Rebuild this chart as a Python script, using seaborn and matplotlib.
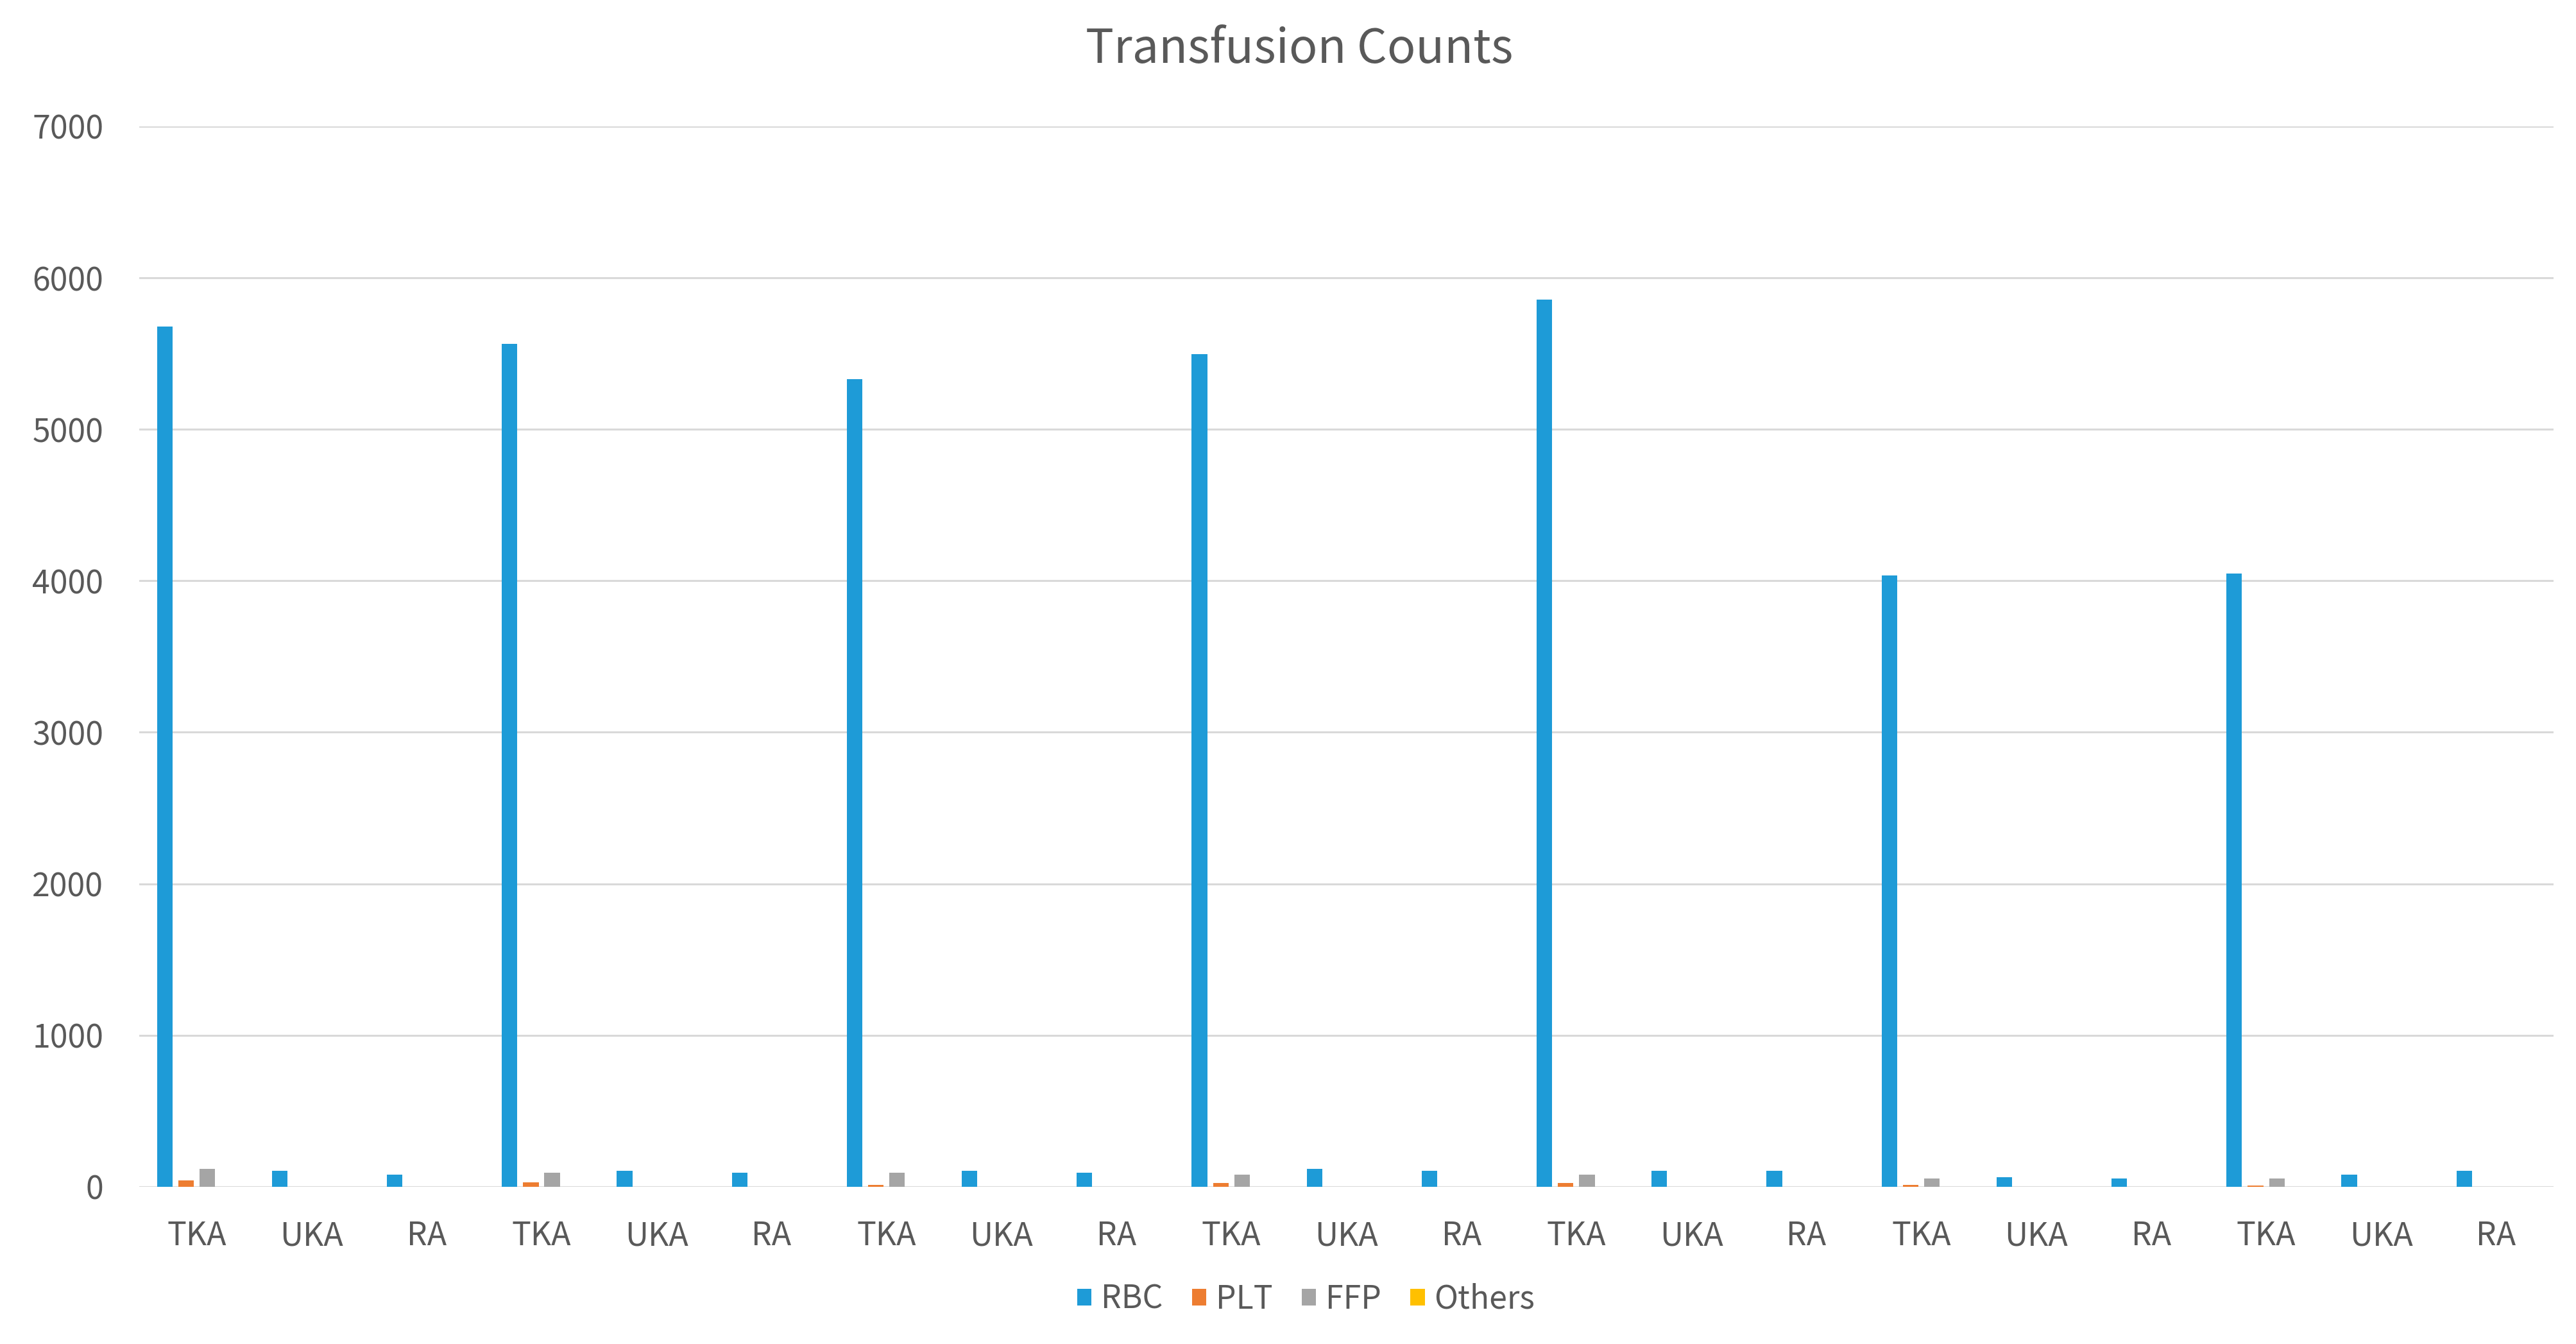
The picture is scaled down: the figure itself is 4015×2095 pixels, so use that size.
import numpy as np
import pandas as pd
import matplotlib.pyplot as plt
import seaborn as sns

sns.set_theme(style="white")
plt.rcParams['font.family'] = ['Noto Sans CJK KR', 'DejaVu Sans']
plt.rcParams['font.weight'] = 'light'

# procedure labels, repeated in 7 blocks of TKA / UKA / RA
procedures = ['TKA', 'UKA', 'RA'] * 7

# values (one per procedure slot)
rbc = [5680, 106, 80, 5565, 106, 93, 5330, 106, 93, 5495, 120, 105,
       5855, 106, 106, 4035, 65, 55, 4048, 80, 106]
plt_counts = [42, 0, 0, 28, 0, 0, 14, 0, 0, 25, 0, 0,
              25, 0, 0, 14, 0, 0, 10, 0, 0]
ffp = [120, 0, 0, 93, 0, 0, 93, 0, 0, 80, 0, 0,
       80, 0, 0, 55, 0, 0, 55, 0, 0]
others = [0] * 21

types = ['RBC', 'PLT', 'FFP', 'Others']
colors = ['#1E9BD7', '#ED7D31', '#A5A5A5', '#FFC000']
yticks = [0, 1000, 2000, 3000, 4000, 5000, 6000, 7000]

# long form table for seaborn; slot keeps repeated labels apart
slots = [f'{i}_{p}' for i, p in enumerate(procedures)]
rows = []
for name, vals in zip(types, [rbc, plt_counts, ffp, others]):
    for s, v in zip(slots, vals):
        rows.append({'slot': s, 'type': name, 'count': v})
df = pd.DataFrame(rows)

text_col = '#595959'
grid_col = '#D9D9D9'

fig = plt.figure(figsize=(40.15, 20.95), dpi=100)
ax = fig.add_axes([0.054, 0.117, 0.9373, 0.789])

sns.barplot(data=df, x='slot', y='count', hue='type', order=slots,
            hue_order=types, palette=colors, saturation=1,
            width=0.74, gap=0.27, linewidth=0, ax=ax)

ax.set_ylim(0, 7000)
ax.set_xlim(-0.5, len(slots) - 0.5)
ax.set_yticks(yticks)
ax.set_yticklabels([str(t) for t in yticks])
ax.set_xticks(range(len(slots)))
ax.set_xticklabels(procedures)
ax.set_xlabel('')
ax.set_ylabel('')

ax.set_axisbelow(True)
ax.yaxis.grid(True, color=grid_col, linewidth=2.2)
for sp in ax.spines.values():
    sp.set_visible(False)
ax.tick_params(axis='both', length=0, labelsize=36, labelcolor=text_col)
ax.tick_params(axis='y', pad=40)
ax.tick_params(axis='x', pad=37)

handles, labels = ax.get_legend_handles_labels()
ax.get_legend().remove()
fig.legend(handles, labels, loc='center', bbox_to_anchor=(0.507, 0.033),
           ncol=4, frameon=False, fontsize=36, labelcolor=text_col,
           handlelength=0.45, handleheight=0.45, handletextpad=0.3,
           columnspacing=0.9)

fig.suptitle('Transfusion Counts', x=0.5044, y=0.963, va='center',
             fontsize=53, color=text_col)

fig.savefig('out.png', dpi=100)
